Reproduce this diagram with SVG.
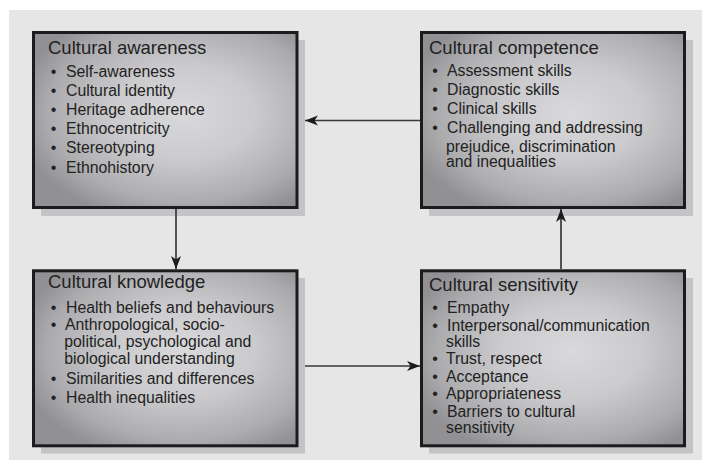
<svg xmlns="http://www.w3.org/2000/svg" width="702" height="460" viewBox="0 0 702 460">
  <defs>
    <radialGradient id="boxFill" cx="0.57" cy="0.46" r="0.64">
      <stop offset="0" stop-color="#d9d9db"/>
      <stop offset="0.42" stop-color="#cbcbcd"/>
      <stop offset="0.8" stop-color="#acacaf"/>
      <stop offset="1" stop-color="#919194"/>
    </radialGradient>
    <marker id="arrow" markerUnits="userSpaceOnUse" markerWidth="15" markerHeight="11" refX="13" refY="5" orient="auto">
      <path d="M0,0 L13,5 L0,10 L3.5,5 z" fill="#1c1c1c"/>
    </marker>
  </defs>
  <style>
    .shadow { fill: #c4c4c6; }
    .box { fill: url(#boxFill); stroke: #1c1c1e; stroke-width: 3; }
    .title { font-family: "Liberation Sans", Arial, sans-serif; font-size: 18.5px; fill: #222222; }
    .item { font-family: "Liberation Sans", Arial, sans-serif; font-size: 15.8px; fill: #222222; }
    .dot { font-family: "Liberation Sans", Arial, sans-serif; font-size: 16px; fill: #222222; text-anchor: middle; }
    .link { stroke: #383838; stroke-width: 1.7; fill: none; marker-end: url(#arrow); }
  </style>

  <!-- page backdrop -->
  <rect x="9" y="10" width="693" height="450" fill="#e6e6e7"/>

  <!-- Cultural awareness -->
  <g id="awareness">
    <rect class="shadow" x="41" y="40" width="264" height="176"/>
    <rect class="box" x="33.5" y="32.5" width="263.5" height="175"/>
    <text class="title" x="48" y="54">Cultural awareness</text>
    <text class="dot" x="53.5" y="77">•</text><text class="item" x="66" y="77">Self-awareness</text>
    <text class="dot" x="53.5" y="96">•</text><text class="item" x="66" y="96">Cultural identity</text>
    <text class="dot" x="53.5" y="115">•</text><text class="item" x="66" y="115">Heritage adherence</text>
    <text class="dot" x="53.5" y="134">•</text><text class="item" x="66" y="134">Ethnocentricity</text>
    <text class="dot" x="53.5" y="153">•</text><text class="item" x="66" y="153">Stereotyping</text>
    <text class="dot" x="53.5" y="172.5">•</text><text class="item" x="66" y="172.5">Ethnohistory</text>
  </g>

  <!-- Cultural competence -->
  <g id="competence">
    <rect class="shadow" x="429" y="40" width="264" height="176"/>
    <rect class="box" x="421.5" y="32.5" width="263" height="175"/>
    <text class="title" x="429" y="54">Cultural competence</text>
    <text class="dot" x="435" y="76">•</text><text class="item" x="447" y="76">Assessment skills</text>
    <text class="dot" x="435" y="95.3">•</text><text class="item" x="447" y="95.3">Diagnostic skills</text>
    <text class="dot" x="435" y="114.3">•</text><text class="item" x="447" y="114.3">Clinical skills</text>
    <text class="dot" x="435" y="133.3">•</text><text class="item" x="447" y="133.3">Challenging and addressing</text>
    <text class="item" x="446" y="151.5">prejudice, discrimination</text>
    <text class="item" x="446" y="167">and inequalities</text>
  </g>

  <!-- Cultural knowledge -->
  <g id="knowledge">
    <rect class="shadow" x="41" y="278" width="264" height="175.5"/>
    <rect class="box" x="33.5" y="270.8" width="263.5" height="175"/>
    <text class="title" x="48" y="288.3">Cultural knowledge</text>
    <text class="dot" x="53.5" y="312.7">•</text><text class="item" x="66" y="312.7">Health beliefs and behaviours</text>
    <text class="dot" x="53.5" y="330">•</text><text class="item" x="65" y="330">Anthropological, socio-</text>
    <text class="item" x="64.3" y="347">political, psychological and</text>
    <text class="item" x="64.3" y="364">biological understanding</text>
    <text class="dot" x="53.5" y="384">•</text><text class="item" x="66" y="384">Similarities and differences</text>
    <text class="dot" x="53.5" y="402.7">•</text><text class="item" x="66" y="402.7">Health inequalities</text>
  </g>

  <!-- Cultural sensitivity -->
  <g id="sensitivity">
    <rect class="shadow" x="429" y="278" width="264" height="175.5"/>
    <rect class="box" x="421.5" y="270.8" width="263" height="175"/>
    <text class="title" x="429" y="291">Cultural sensitivity</text>
    <text class="dot" x="435" y="312.7">•</text><text class="item" x="447" y="312.7">Empathy</text>
    <text class="dot" x="435" y="330.7">•</text><text class="item" x="447" y="330.7">Interpersonal/communication</text>
    <text class="item" x="446" y="347.3">skills</text>
    <text class="dot" x="435" y="364.3">•</text><text class="item" x="446" y="364.3">Trust, respect</text>
    <text class="dot" x="435" y="382.3">•</text><text class="item" x="446" y="382.3">Acceptance</text>
    <text class="dot" x="435" y="399.3">•</text><text class="item" x="446" y="399.3">Appropriateness</text>
    <text class="dot" x="435" y="416.7">•</text><text class="item" x="447" y="416.7">Barriers to cultural</text>
    <text class="item" x="446" y="433.3">sensitivity</text>
  </g>

  <!-- connectors -->
  <g id="connectors">
    <line class="link" x1="420" y1="120.5" x2="305" y2="120.5"/>
    <line class="link" x1="176" y1="209" x2="176" y2="269"/>
    <line class="link" x1="305" y1="366" x2="420" y2="366"/>
    <line class="link" x1="561" y1="269" x2="561" y2="209"/>
  </g>
</svg>
